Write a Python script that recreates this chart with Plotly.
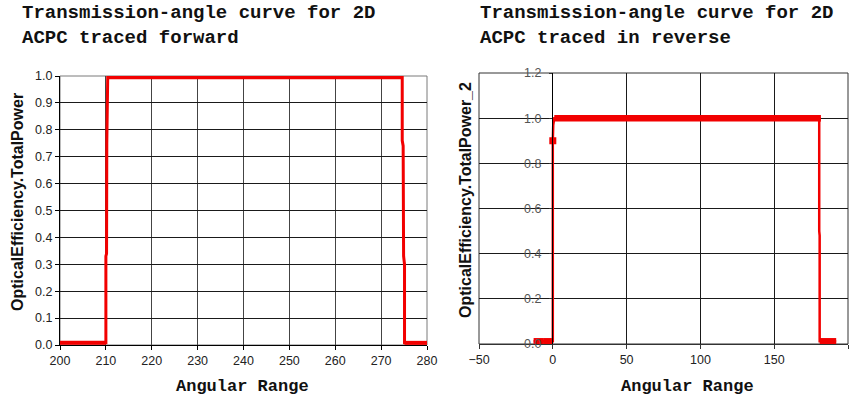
import plotly.graph_objects as go

# Forward trace: transmitted power vs. incidence angle
fwd_angle = [200, 210, 210, 210.15, 210.2, 210.4, 274.6, 274.6, 274.8, 274.9, 275.1, 275.1, 280]
fwd_power = [0.008, 0.008, 0.33, 0.34, 0.75, 0.995, 0.995, 0.76, 0.74, 0.33, 0.3, 0.008, 0.008]

# Reverse trace
rev_angle = [-13, -6, 0, 0, 0.3, 1, 181.5, 180.5, 180.5, 180.8, 180.8, 192]
rev_power = [0.012, 0.012, 0.012, 0.9, 0.97, 1.0, 1.0, 1.0, 0.5, 0.48, 0.012, 0.012]

fwd_xticks = [200, 210, 220, 230, 240, 250, 260, 270, 280]
fwd_yticks = [0.0, 0.1, 0.2, 0.3, 0.4, 0.5, 0.6, 0.7, 0.8, 0.9, 1.0]
rev_xticks = [-50, 0, 50, 100, 150, 200]
rev_yticks = [0.0, 0.2, 0.4, 0.6, 0.8, 1.0, 1.2]

title_fwd = "Transmission-angle curve for 2D<br>ACPC traced forward"
title_rev = "Transmission-angle curve for 2D<br>ACPC traced in reverse"

RED = "#f20000"
W, H = 858, 400


def flat_runs(xs, ys):
    """Segments where the power stays level (drawn heavier)."""
    fx, fy = [], []
    for i in range(len(xs) - 1):
        if ys[i] == ys[i + 1]:
            fx += [xs[i], xs[i + 1], None]
            fy += [ys[i], ys[i + 1], None]
    return fx, fy


fig = go.Figure()

# left panel
fig.add_trace(go.Scatter(x=fwd_angle, y=fwd_power, mode="lines",
                         line=dict(color=RED, width=3), xaxis="x", yaxis="y",
                         showlegend=False, hoverinfo="skip"))
fx, fy = flat_runs(fwd_angle, fwd_power)
fig.add_trace(go.Scatter(x=fx, y=fy, mode="lines", line=dict(color=RED, width=4),
                         xaxis="x", yaxis="y", showlegend=False, hoverinfo="skip"))

# right panel
fig.add_trace(go.Scatter(x=rev_angle, y=rev_power, mode="lines",
                         line=dict(color=RED, width=2.5), xaxis="x2", yaxis="y2",
                         showlegend=False, hoverinfo="skip"))
rx, ry = flat_runs(rev_angle, rev_power)
fig.add_trace(go.Scatter(x=rx, y=ry, mode="lines", line=dict(color=RED, width=6.5),
                         xaxis="x2", yaxis="y2", showlegend=False, hoverinfo="skip"))
fig.add_trace(go.Scatter(x=[rev_angle[3]], y=[rev_power[3]], mode="markers",
                         marker=dict(symbol="square", size=7, color=RED),
                         xaxis="x2", yaxis="y2", showlegend=False, hoverinfo="skip"))

tick_font = dict(family="Liberation Sans, Arial", size=12.5, color="#222")

# pixel-based domains
L1, R1, T1, B1 = 60, 427, 76, 345
L2, R2, T2, B2 = 479, 848, 73, 344

common = dict(zeroline=False, automargin=False, showgrid=True, gridwidth=1)

fig.update_layout(
    width=W, height=H,
    margin=dict(l=0, r=0, t=0, b=0, autoexpand=False),
    paper_bgcolor="white", plot_bgcolor="white",
    xaxis=dict(domain=[L1 / W, R1 / W], range=[200, 280], tickvals=fwd_xticks,
               gridcolor="#444", showline=True, linecolor="black", linewidth=1,
               ticks="outside", ticklen=4, tickcolor="black",
               tickfont=tick_font, anchor="y", **common),
    yaxis=dict(domain=[1 - B1 / H, 1 - T1 / H], range=[0, 1.0], tickvals=fwd_yticks,
               tickformat=".1f", gridcolor="#1a1a1a",
               showline=True, linecolor="black", linewidth=1,
               ticks="outside", ticklen=4, tickcolor="black",
               tickfont=tick_font, anchor="x", **common),
    xaxis2=dict(domain=[L2 / W, R2 / W], range=[-50, 200], tickvals=rev_xticks,
                gridcolor="#1a1a1a", showline=True, linecolor="#333", linewidth=1,
                ticks="outside", ticklen=4, tickcolor="#333",
                tickfont=tick_font, anchor="y2", **common),
    yaxis2=dict(domain=[1 - B2 / H, 1 - T2 / H], range=[0, 1.2], tickvals=rev_yticks,
                tickformat=".1f", gridcolor="#1a1a1a",
                showline=True, linecolor="black", linewidth=1,
                ticks="outside", ticklen=3, tickcolor="#333", ticklabelstandoff=5,
                tickfont=dict(family="Liberation Sans, Arial", size=12.5, color="#555"),
                anchor="free", position=552 / W, **common),
)

# plot frames
fig.add_shape(type="rect", xref="paper", yref="paper",
              x0=L1 / W, x1=R1 / W, y0=1 - B1 / H, y1=1 - T1 / H,
              line=dict(color="#7a7a7a", width=1), layer="below")
fig.add_shape(type="rect", xref="paper", yref="paper",
              x0=L2 / W, x1=R2 / W, y0=1 - B2 / H, y1=1 - T2 / H,
              line=dict(color="#333", width=1), layer="below")

title_font = dict(family="Liberation Mono, Courier New", size=19, color="#111")
label_font = dict(family="Liberation Mono, Courier New", size=17, color="#111")
ytitle_font = dict(family="Liberation Sans, Arial", size=16, color="#111")

fig.add_annotation(text="<b>" + title_fwd.replace("<br>", "</b><br><b>") + "</b>",
                   xref="paper", yref="paper", x=20 / W, y=1,
                   xanchor="left", yanchor="top", align="left",
                   showarrow=False, font=title_font)
fig.add_annotation(text="<b>" + title_rev.replace("<br>", "</b><br><b>") + "</b>",
                   xref="paper", yref="paper", x=478 / W, y=1,
                   xanchor="left", yanchor="top", align="left",
                   showarrow=False, font=title_font)

fig.add_annotation(text="<b>Angular Range</b>", xref="paper", yref="paper",
                   x=242 / W, y=1 - 386 / H, xanchor="center", yanchor="middle",
                   showarrow=False, font=label_font)
fig.add_annotation(text="<b>Angular Range</b>", xref="paper", yref="paper",
                   x=687 / W, y=1 - 386 / H, xanchor="center", yanchor="middle",
                   showarrow=False, font=label_font)

fig.add_annotation(text="<b>OpticalEfficiency.TotalPower</b>", xref="paper", yref="paper",
                   x=17 / W, y=1 - 202 / H, xanchor="center", yanchor="middle",
                   textangle=-90, showarrow=False, font=ytitle_font)
fig.add_annotation(text="<b>OpticalEfficiency.TotalPower_2</b>", xref="paper", yref="paper",
                   x=465 / W, y=1 - 200 / H, xanchor="center", yanchor="middle",
                   textangle=-90, showarrow=False, font=ytitle_font)

fig.write_html("out.html")
